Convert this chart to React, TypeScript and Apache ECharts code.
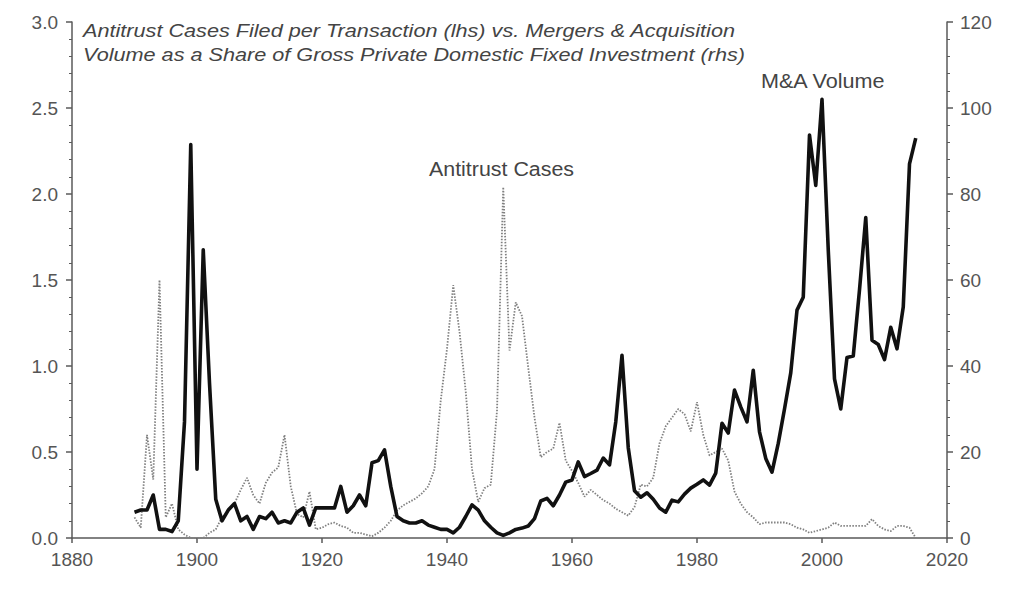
import React, { useEffect, useRef } from "react";
import * as echarts from "echarts";

const firstYear = 1890;

// M&A volume as share of gross private domestic fixed investment (rhs), 1890-2015
const mnaVolume = [
  6, 6.5, 6.5, 10, 2, 2, 1.5, 4, 27, 91.5,
  16, 67, 36, 9, 4, 6.5, 8, 4, 5, 2,
  5, 4.5, 6, 3.5, 4, 3.5, 6, 7, 3, 7,
  7, 7, 7, 12, 6, 7.5, 10, 7.5, 17.5, 18,
  20.5, 12, 5, 4, 3.5, 3.5, 4, 3, 2.5, 2,
  2, 1.2, 2.5, 5, 7.7, 6.5, 4, 2.5, 1.2, 0.6,
  1.2, 2, 2.3, 2.8, 4.5, 8.6, 9.2, 7.5, 10, 13,
  13.5, 17.7, 14.3, 15, 15.8, 18.6, 17, 27, 42.5, 21,
  11, 9.5, 10.5, 9, 7, 6, 8.8, 8.4, 10.2, 11.6,
  12.5, 13.5, 12.3, 15.1, 26.7, 24.4, 34.4, 30.5, 27, 39,
  24.7, 18.5, 15.3, 22, 30, 38.4, 53, 56, 93.7, 82,
  102, 67, 37, 30, 42, 42.3, 57.7, 74.5, 46, 45,
  41.5, 49, 44, 53.7, 87, 93,
];

// Antitrust cases filed per transaction (lhs), 1890-2015
const antitrustCases = [
  0.12, 0.06, 0.6, 0.34, 1.5, 0.12, 0.2, 0.05, 0.02, 0.0,
  0.0, 0.0, 0.03, 0.05, 0.12, 0.16, 0.2, 0.28, 0.35, 0.25,
  0.2, 0.32, 0.38, 0.41, 0.6, 0.3, 0.14, 0.12, 0.27, 0.05,
  0.06, 0.08, 0.09, 0.07, 0.06, 0.03, 0.03, 0.02, 0.01, 0.03,
  0.06, 0.1, 0.16, 0.19, 0.21, 0.23, 0.26, 0.3, 0.4, 0.8,
  1.1, 1.47, 1.2, 0.85, 0.4, 0.21, 0.29, 0.31, 0.74, 2.04,
  1.09, 1.37, 1.29, 0.99, 0.7, 0.47, 0.5, 0.52, 0.67, 0.45,
  0.39, 0.32, 0.24, 0.28, 0.25, 0.22, 0.2, 0.17, 0.15, 0.13,
  0.18, 0.31, 0.3, 0.35, 0.55, 0.65, 0.7, 0.75, 0.72, 0.62,
  0.79, 0.6, 0.48, 0.5, 0.52, 0.45, 0.27, 0.2, 0.15, 0.12,
  0.08, 0.09, 0.09, 0.09, 0.09, 0.08, 0.06, 0.05, 0.03, 0.04,
  0.05, 0.06, 0.09, 0.07, 0.07, 0.07, 0.07, 0.07, 0.11, 0.07,
  0.05, 0.04, 0.07, 0.07, 0.06, 0.0,
];

const xTicks = { min: 1880, max: 2020, interval: 20 };
const leftTicks = { min: 0, max: 3, interval: 0.5 };
const rightTicks = { min: 0, max: 120, interval: 20 };

const titleLines = [
  "Antitrust Cases Filed per Transaction (lhs) vs. Mergers & Acquisition",
  "Volume as a Share of Gross Private Domestic Fixed Investment (rhs)",
];
const annotations = ["Antitrust Cases", "M&A Volume"];

export default function App() {
  const ref = useRef<HTMLDivElement>(null);

  useEffect(() => {
    if (!ref.current) return;
    const chart = echarts.init(ref.current, undefined, { renderer: "svg" });
    const font = "'Liberation Sans', Arial, Helvetica, sans-serif";
    const axisColor = "#5a5a5a";
    const labelColor = "#555";

    const mnaData = mnaVolume.map((v, i) => [firstYear + i, v]);
    const casesData = antitrustCases.map((v, i) => [firstYear + i, v]);

    const yAxisCommon = {
      type: "value",
      axisLine: { show: true, lineStyle: { color: axisColor, width: 1.5 } },
      axisTick: { show: true, length: 6, lineStyle: { color: axisColor, width: 1.5 } },
      minorTick: { show: true, splitNumber: 5, length: 3, lineStyle: { color: axisColor, width: 1 } },
      splitLine: { show: false },
    };

    const textStyle = (text: string, size: number, italic: boolean) => ({
      text,
      fill: "#444",
      fontSize: size,
      fontStyle: italic ? "italic" : "normal",
      fontFamily: font,
      textVerticalAlign: "middle",
      verticalAlign: "middle",
    });

    chart.setOption({
      animation: false,
      backgroundColor: "#ffffff",
      grid: { left: 64, right: 64, top: 14, bottom: 54 },
      xAxis: {
        type: "value",
        min: xTicks.min,
        max: xTicks.max,
        interval: xTicks.interval,
        axisLine: { show: true, lineStyle: { color: axisColor, width: 1.5 } },
        axisTick: { show: true, length: 5, lineStyle: { color: axisColor, width: 1.5 } },
        splitLine: { show: false },
        axisLabel: {
          color: labelColor,
          fontSize: 19,
          fontFamily: font,
          margin: 12,
          formatter: (v: number) => String(v),
        },
      },
      yAxis: [
        {
          ...yAxisCommon,
          position: "left",
          min: leftTicks.min,
          max: leftTicks.max,
          interval: leftTicks.interval,
          axisLabel: {
            color: labelColor,
            fontSize: 19,
            fontFamily: font,
            margin: 14,
            formatter: (v: number) => v.toFixed(1),
          },
        },
        {
          ...yAxisCommon,
          position: "right",
          min: rightTicks.min,
          max: rightTicks.max,
          interval: rightTicks.interval,
          axisLabel: {
            color: labelColor,
            fontSize: 19,
            fontFamily: font,
            margin: 13,
          },
        },
      ],
      series: [
        {
          name: "Antitrust Cases",
          type: "line",
          yAxisIndex: 0,
          data: casesData,
          showSymbol: false,
          symbol: "none",
          lineStyle: { color: "#808080", width: 1.8, type: [1.5, 1.5] },
          z: 2,
        },
        {
          name: "M&A Volume",
          type: "line",
          yAxisIndex: 1,
          data: mnaData,
          showSymbol: false,
          symbol: "none",
          lineStyle: { color: "#111", width: 3.6, join: "round" },
          z: 3,
        },
      ],
      graphic: [
        {
          type: "text",
          x: 75,
          y: 22,
          scaleX: 1.14,
          style: textStyle(titleLines[0], 19, true),
        },
        {
          type: "text",
          x: 75,
          y: 46,
          scaleX: 1.14,
          style: textStyle(titleLines[1], 19, true),
        },
        {
          type: "text",
          x: 421,
          y: 161,
          scaleX: 1.07,
          style: textStyle(annotations[0], 20, false),
        },
        {
          type: "text",
          x: 753,
          y: 73,
          scaleX: 1.08,
          style: textStyle(annotations[1], 20, false),
        },
      ],
    });

    return () => chart.dispose();
  }, []);

  return <div ref={ref} style={{ width: 1003, height: 584 }} />;
}
